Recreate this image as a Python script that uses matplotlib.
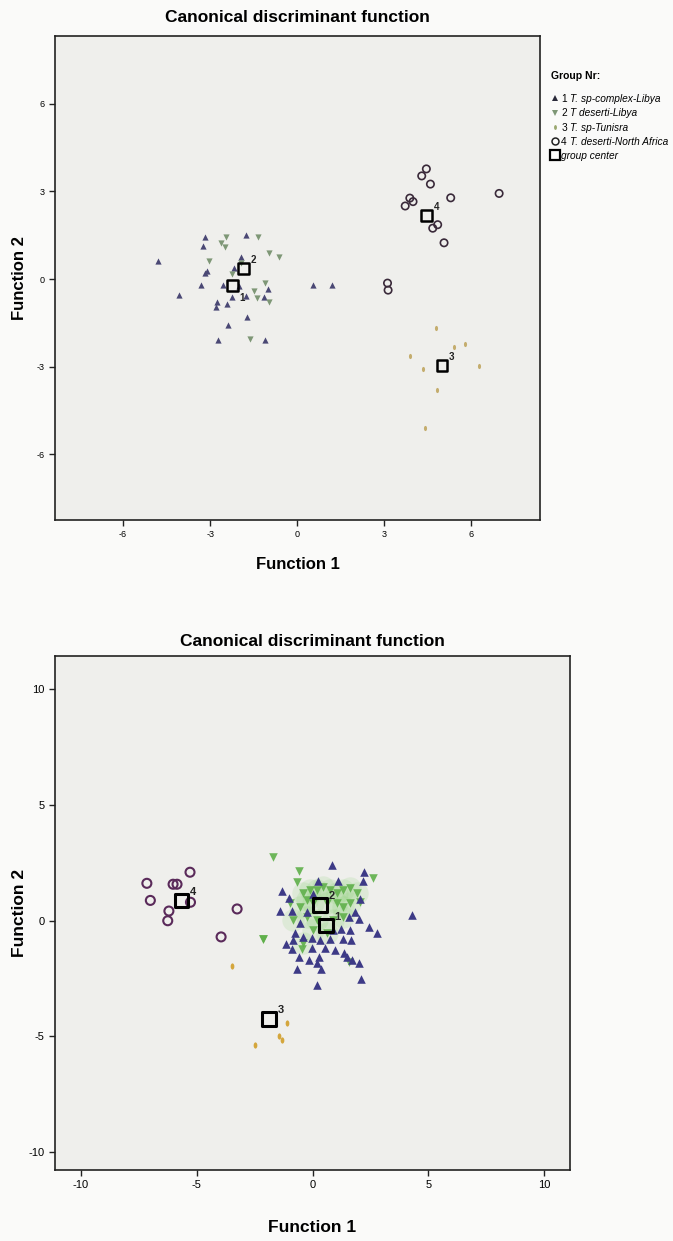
import numpy as np
import matplotlib.pyplot as plt
import matplotlib.transforms as mtrans
from matplotlib.path import Path
from matplotlib.lines import Line2D

plt.rcParams['font.family'] = ['Liberation Sans', 'DejaVu Sans']
plt.rcParams['axes.unicode_minus'] = False

# ---- top panel (4 groups) ----
top_g1_x = [-3.19, -1.77, -3.24, -4.78, -3.12, -3.17, -3.33, -2.55, -4.08, -2.18, -1.95, -2.25,
            -1.77, -2.76, -2.80, -2.43, -0.99, -1.15, -1.73, -2.38, -2.72, -1.12, 0.55, 1.20, -2.02]
top_g1_y = [1.45, 1.52, 1.13, 0.63, 0.28, 0.19, -0.19, -0.19, -0.55, 0.38, 0.76, -0.60,
            -0.58, -0.78, -0.97, -0.86, -0.35, -0.63, -1.29, -1.59, -2.09, -2.09, -0.21, -0.21, -0.24]
top_g2_x = [-2.46, -1.36, -2.64, -2.50, -0.96, -0.63, -3.03, -2.23, -1.47, -1.38, -0.98, -1.10, -1.64, -1.95]
top_g2_y = [1.45, 1.45, 1.24, 1.11, 0.90, 0.74, 0.61, 0.17, -0.40, -0.66, -0.78, -0.15, -2.07, 0.55]
top_g3_x = [4.78, 5.43, 5.80, 3.91, 6.28, 4.35, 4.83, 4.42]
top_g3_y = [-1.69, -2.34, -2.24, -2.64, -2.98, -3.09, -3.80, -5.11]
top_g4_x = [4.46, 4.30, 4.60, 3.89, 4.00, 3.73, 5.30, 6.97, 4.85, 4.68, 5.07, 3.12, 3.14]
top_g4_y = [3.77, 3.53, 3.25, 2.77, 2.65, 2.50, 2.78, 2.93, 1.86, 1.74, 1.24, -0.14, -0.38]
top_cent_x = [-2.22, -1.84, 5.00, 4.47]
top_cent_y = [-0.22, 0.35, -2.96, 2.18]

# ---- bottom panel ----
bot_g1_x = [0.84, 2.20, 2.17, 0.24, 1.10, -1.32, -1.00, 2.05, 0.01, -1.38, -0.89, -0.25, 1.82,
            1.59, 2.00, 4.30, 2.43, 2.77, -0.54, -0.74, -0.86, -1.15, -0.40, -0.02, 0.90, 1.22,
            1.62, 0.76, 1.33, 1.68, 0.53, -0.02, -0.89, -0.60, -0.14, 0.27, 0.99, 1.36, 2.00,
            1.71, -0.66, 0.18, 0.35, 0.18, 2.08, 1.48, 0.32]
bot_g1_y = [2.39, 2.10, 1.72, 1.70, 1.70, 1.29, 0.97, 0.95, 1.15, 0.40, 0.40, 0.37, 0.37,
            0.17, 0.08, 0.22, -0.27, -0.53, -0.12, -0.56, -0.84, -1.02, -0.70, -0.76, -0.41, -0.35,
            -0.41, -0.79, -0.79, -0.84, -1.19, -1.19, -1.22, -1.59, -1.71, -1.59, -1.28, -1.42, -1.85,
            -1.71, -2.11, -1.85, -2.11, -2.81, -2.55, -1.57, -0.84]
bot_g2_x = [-1.72, -0.60, -0.68, 2.60, -2.13, -0.45, 1.59, 2.05, -0.97, -2.13,
            -0.40, -0.11, 0.18, 0.47, 0.76, 1.04, 1.33, 1.62, -0.25, 0.04, 0.61, 1.04,
            1.33, -0.54, -0.25, 0.18, 0.90, 1.33, 0.04, 0.61, -0.40, -0.83, 1.62, 1.91]
bot_g2_y = [2.73, 2.13, 1.67, 1.84, -0.79, -1.22, -1.80, 0.80, 0.74, -0.79,
            1.18, 1.32, 1.32, 1.46, 1.32, 1.18, 1.32, 1.39, 0.89, 0.74, 0.74, 0.74,
            0.60, 0.60, 0.17, 0.02, 0.02, 0.17, -0.41, -0.56, -0.99, 0.02, 0.74, 1.18]
bot_g3_x = [-3.47, -1.09, -1.46, -1.32, -2.47]
bot_g3_y = [-1.97, -4.42, -5.00, -5.17, -5.40]
bot_g4_x = [-5.28, -7.14, -6.01, -5.84, -6.99, -5.26, -6.19, -6.24, -3.25, -3.94]
bot_g4_y = [2.09, 1.61, 1.57, 1.57, 0.87, 0.79, 0.41, -0.01, 0.50, -0.71]
bot_cent_x = [0.58, 0.32, -1.87, -5.64]
bot_cent_y = [-0.21, 0.67, -4.26, 0.86]

group_names = ['T. sp-complex-Libya', 'T deserti-Libya', 'T. sp-Tunisra', 'T. deserti-North Africa']

# small upright ellipse used for group 3
ellipse = Path.unit_circle().transformed(mtrans.Affine2D().scale(0.6, 1.0))

W, H = 673, 1241
fig = plt.figure(figsize=(W / 100, H / 100), dpi=100, facecolor='#fafaf9')

ax1 = fig.add_axes([55 / W, 1 - 520 / H, 485 / W, 484 / H])
ax2 = fig.add_axes([55 / W, 1 - 1170 / H, 515 / W, 514 / H])

for ax in (ax1, ax2):
    ax.set_facecolor('#efefec')
    for sp in ax.spines.values():
        sp.set_linewidth(1.2)
        sp.set_color('#222222')
    ax.tick_params(direction='out', length=4, width=1.0, color='#222222')

ax1.set_title('Canonical discriminant function', fontsize=12.5, fontweight='bold', pad=10)
ax2.set_title('Canonical discriminant function', fontsize=12.5, fontweight='bold', pad=7)

# top panel
ax1.scatter(top_g1_x, top_g1_y, marker='^', s=20, color='#4a4874', linewidths=0, zorder=3)
ax1.scatter(top_g2_x, top_g2_y, marker='v', s=20, color='#7e9776', linewidths=0, zorder=3)
ax1.scatter(top_g3_x, top_g3_y, marker=ellipse, s=14, color='#c4ad6e', linewidths=0, zorder=3)
ax1.scatter(top_g4_x, top_g4_y, marker='o', s=28, facecolors='none', edgecolors='#3a2a3a',
            linewidths=1.2, zorder=3)
ax1.scatter(top_cent_x, top_cent_y, marker='s', s=60, facecolors='none', edgecolors='black',
            linewidths=1.8, zorder=4)
top_offsets = [(5, -11), (5, 4), (5, 4), (5, 4)]
for i, (cx, cy) in enumerate(zip(top_cent_x, top_cent_y)):
    ax1.annotate(str(i + 1), (cx, cy), xytext=top_offsets[i], textcoords='offset points',
                 fontsize=7, fontweight='bold', color='#222222')

ax1.set_xlim(-8.35, 8.38)
ax1.set_ylim(-8.25, 8.32)
ax1.set_xticks([-6, -3, 0, 3, 6])
ax1.set_yticks([-6, -3, 0, 3, 6])
ax1.tick_params(labelsize=6.5)
ax1.set_xlabel('Function 1', fontsize=12, fontweight='bold')
ax1.set_ylabel('Function 2', fontsize=12, fontweight='bold')
ax1.xaxis.set_label_coords(0.5, -0.077)
ax1.yaxis.set_label_coords(-0.057, 0.5)

# legend for the top panel
fig.text(551 / W, 1 - 76 / H, 'Group Nr:', fontsize=7.5, fontweight='bold', va='center')
handles = [
    Line2D([], [], marker='^', ls='none', ms=4, color='#2a2a3a', mew=0),
    Line2D([], [], marker='v', ls='none', ms=4, color='#7e9776', mew=0),
    Line2D([], [], marker=ellipse, ls='none', ms=3.5, color='#9aa870', mew=0),
    Line2D([], [], marker='o', ls='none', ms=5, mfc='none', mec='#222222', mew=1.1),
    Line2D([], [], marker='s', ls='none', ms=7, mfc='none', mec='black', mew=1.6),
]
leg = ax1.legend(handles, ['1', '2', '3', '4', 'group center'], loc='upper left',
                 bbox_to_anchor=(551 / W, 1 - 94 / H), bbox_transform=fig.transFigure,
                 frameon=False, fontsize=7.3,
                 handlelength=0.7, handletextpad=0.3, labelspacing=0.42,
                 borderpad=0, borderaxespad=0)
leg_texts = leg.get_texts()
leg_texts[4].set_style('italic')

# bottom panel: soft green haze where the group 2 points pile up, then the points
ax2.scatter(bot_g2_x[10:], bot_g2_y[10:], marker='o', s=260, color='#8fd27a', linewidths=0,
            alpha=0.18, zorder=2)
ax2.scatter(bot_g2_x, bot_g2_y, marker='v', s=38, color='#5fb04a', linewidths=0, alpha=0.9, zorder=3)
ax2.scatter(bot_g1_x, bot_g1_y, marker='^', s=38, color='#3d3a86', linewidths=0, zorder=3)
ax2.scatter(bot_g3_x, bot_g3_y, marker=ellipse, s=20, color='#d4a63c', linewidths=0, zorder=3)
ax2.scatter(bot_g4_x, bot_g4_y, marker='o', s=42, facecolors='none', edgecolors='#5a2a5a',
            linewidths=1.5, zorder=3)
ax2.scatter(bot_cent_x, bot_cent_y, marker='s', s=95, facecolors='none', edgecolors='black',
            linewidths=2.2, zorder=4)
for i, (cx, cy) in enumerate(zip(bot_cent_x, bot_cent_y)):
    ax2.annotate(str(i + 1), (cx, cy), xytext=(6, 4), textcoords='offset points',
                 fontsize=8, fontweight='bold', color='#222222')

ax2.set_xlim(-11.1, 11.1)
ax2.set_ylim(-10.8, 11.45)
ax2.set_xticks([-10, -5, 0, 5, 10])
ax2.set_yticks([-10, -5, 0, 5, 10])
ax2.tick_params(labelsize=8)
ax2.set_xlabel('Function 1', fontsize=12.5, fontweight='bold')
ax2.set_ylabel('Function 2', fontsize=12.5, fontweight='bold')
ax2.xaxis.set_label_coords(0.5, -0.097)
ax2.yaxis.set_label_coords(-0.055, 0.5)

# species names in italics after the group numbers (needs legend positions)
fig.canvas.draw()
renderer = fig.canvas.get_renderer()
for t, name in zip(leg_texts[:4], group_names):
    bb = t.get_window_extent(renderer)
    fig.text((bb.x1 + 3) / W, bb.y0 / H, name, fontsize=7.3, style='italic', va='bottom')

plt.savefig('out.png', dpi=100, facecolor=fig.get_facecolor())
